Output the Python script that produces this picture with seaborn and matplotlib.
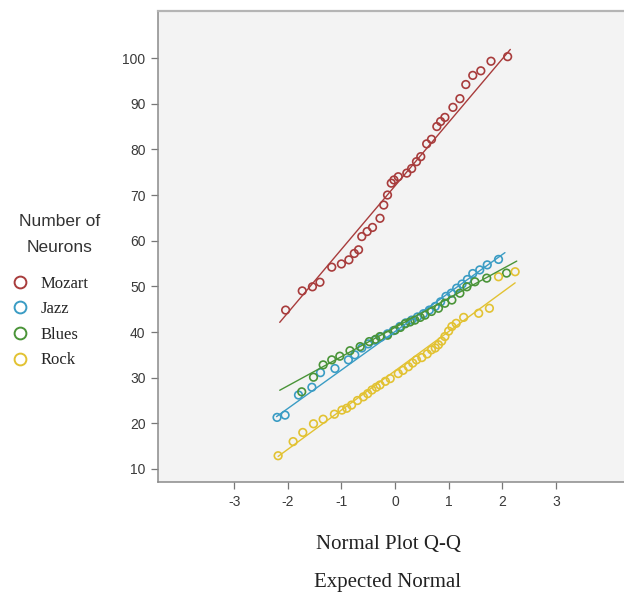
import numpy as np
import pandas as pd
import matplotlib
matplotlib.use("Agg")
import matplotlib.pyplot as plt
from matplotlib.lines import Line2D
import seaborn as sns

# ===============================
# Data
# ===============================
series = ["Mozart", "Jazz", "Blues", "Rock"]
colors = ["#a83c3c", "#3a9cc4", "#4a9438", "#e2c232"]

mozart_z = [-2.04, -1.73, -1.54, -1.40, -1.18, -1.00, -0.86, -0.76, -0.68, -0.62,
            -0.52, -0.42, -0.28, -0.21, -0.14, -0.07, -0.02, 0.06, 0.22, 0.31,
            0.40, 0.48, 0.59, 0.68, 0.78, 0.85, 0.93, 1.08, 1.21, 1.32,
            1.45, 1.60, 1.79, 2.10]
mozart_v = [44.8, 49.0, 49.9, 50.9, 54.2, 54.9, 55.8, 57.2, 58.0, 60.9,
            62.0, 62.9, 64.9, 67.8, 70.0, 72.6, 73.3, 74.0, 74.8, 75.8,
            77.3, 78.4, 81.2, 82.2, 85.0, 86.1, 87.0, 89.2, 91.1, 94.2,
            96.2, 97.2, 99.3, 100.3]

jazz_z = [-2.20, -2.05, -1.80, -1.55, -1.39, -1.12, -0.87, -0.75, -0.62, -0.50,
          -0.38, -0.26, -0.14, -0.03, 0.09, 0.20, 0.31, 0.42, 0.53, 0.64,
          0.75, 0.85, 0.95, 1.05, 1.15, 1.25, 1.35, 1.45, 1.58, 1.72, 1.93]
jazz_v = [21.3, 21.8, 26.2, 27.9, 31.1, 32.0, 33.9, 35.0, 36.5, 37.4,
          38.2, 38.9, 39.6, 40.3, 41.2, 42.0, 42.6, 43.3, 44.0, 44.8,
          45.6, 46.6, 47.8, 48.5, 49.6, 50.5, 51.5, 52.8, 53.6, 54.7, 55.9]

blues_z = [-1.74, -1.52, -1.34, -1.18, -1.03, -0.84, -0.65, -0.48, -0.36, -0.28,
           -0.14, 0.00, 0.10, 0.19, 0.28, 0.37, 0.47, 0.56, 0.68, 0.81,
           0.93, 1.06, 1.21, 1.34, 1.49, 1.71, 2.08]
blues_v = [26.9, 30.1, 32.8, 33.9, 34.7, 35.9, 36.8, 37.9, 38.4, 39.0,
           39.3, 40.4, 41.0, 41.8, 42.2, 42.6, 43.2, 43.7, 44.5, 45.2,
           46.3, 47.0, 48.5, 49.9, 51.0, 51.8, 52.9]

rock_z = [-2.18, -1.90, -1.72, -1.52, -1.34, -1.13, -0.99, -0.90, -0.81, -0.70,
          -0.59, -0.51, -0.43, -0.35, -0.28, -0.18, -0.09, 0.06, 0.15, 0.25,
          0.33, 0.40, 0.50, 0.60, 0.68, 0.75, 0.81, 0.87, 0.93, 1.00,
          1.06, 1.14, 1.28, 1.56, 1.76, 1.93, 2.24]
rock_v = [12.9, 16.0, 18.0, 19.9, 20.9, 22.0, 22.9, 23.3, 24.0, 25.0,
          25.8, 26.5, 27.3, 27.9, 28.4, 29.2, 29.8, 30.9, 31.6, 32.4,
          33.2, 33.9, 34.4, 35.2, 36.1, 36.5, 37.2, 38.0, 39.0, 40.2,
          41.2, 41.9, 43.2, 44.1, 45.2, 52.1, 53.2]

# reference lines: mean + sd * z, over the z span drawn
line_mean = [72.0, 40.1, 41.0, 31.5]
line_sd = [13.9, 8.43, 6.4, 8.6]
line_lo = [-2.15, -2.21, -2.15, -2.18]
line_hi = [2.15, 2.05, 2.27, 2.24]

x_ticks = [-3, -2, -1, 0, 1, 2, 3]
y_ticks = [10, 20, 30, 40, 50, 60, 70, 80, 90, 100]

# ===============================
# Long tables for seaborn
# ===============================
pts = pd.concat([
    pd.DataFrame({"z": z, "v": v, "Music": name})
    for name, z, v in zip(series,
                          [mozart_z, jazz_z, blues_z, rock_z],
                          [mozart_v, jazz_v, blues_v, rock_v])
], ignore_index=True)

lines = pd.concat([
    pd.DataFrame({"z": [lo, hi], "v": [m + s * lo, m + s * hi], "Music": name})
    for name, m, s, lo, hi in zip(series, line_mean, line_sd, line_lo, line_hi)
], ignore_index=True)

palette = dict(zip(series, colors))

# ===============================
# Plot
# ===============================
sns.set_theme(style="white")
plt.rcParams["font.family"] = ["Liberation Sans", "DejaVu Sans"]
plt.rcParams["axes.unicode_minus"] = False

fig = plt.figure(figsize=(6.24, 5.95), dpi=100)
ax = fig.add_axes([158 / 624, 113 / 595, 466 / 624, 471 / 595])
ax.set_facecolor("#f3f3f3")

sns.lineplot(data=lines, x="z", y="v", hue="Music", palette=palette,
             linewidth=1.0, legend=False, ax=ax, estimator=None, sort=False)
sns.scatterplot(data=pts, x="z", y="v", hue="Music", palette=palette,
                marker="o", s=30, linewidth=1.2, legend=False, ax=ax)
# seaborn fills the markers; make them hollow with the series colour as edge
for coll in ax.collections:
    fc = coll.get_facecolors()
    coll.set_edgecolors(fc)
    coll.set_facecolors("none")

ax.set_xlim(-4.42, 4.27)
ax.set_ylim(7.15, 110.3)
ax.set_xticks(x_ticks)
ax.set_yticks(y_ticks)
ax.set_xlabel("")
ax.set_ylabel("")
ax.tick_params(axis="both", direction="out", length=5, width=0.9,
               color="#777777", labelsize=10, labelcolor="#3a3a3a", pad=4,
               left=True, bottom=True)

for side in ["left", "bottom"]:
    ax.spines[side].set_color("#8a8a8a")
    ax.spines[side].set_linewidth(1.1)
ax.spines["top"].set_color("#b4b4b4")
ax.spines["top"].set_linewidth(1.6)
ax.spines["right"].set_visible(False)

serif = ["Liberation Serif", "DejaVu Serif"]
fig.text(389 / 624, 1 - 544 / 595, "Normal Plot Q-Q", family=serif,
         fontsize=15, color="#222222", ha="center", va="center")
fig.text(388 / 624, 1 - 583 / 595, "Expected Normal", family=serif,
         fontsize=15, color="#222222", ha="center", va="center")

# legend title as two centred lines
fig.text(60 / 624, 1 - 222 / 595, "Number of", fontsize=12.5,
         color="#333333", ha="center", va="center")
fig.text(60 / 624, 1 - 247 / 595, "Neurons", fontsize=12.5,
         color="#333333", ha="center", va="center")

handles = [Line2D([], [], linestyle="none", marker="o", markersize=8.5,
                  markerfacecolor="none", markeredgecolor=c, markeredgewidth=1.4)
           for c in colors]
leg = fig.legend(handles, series, loc="upper left",
                 bbox_to_anchor=(10 / 624, 1 - 275.5 / 595), frameon=False,
                 handletextpad=0.66, labelspacing=0.58, borderaxespad=0.0,
                 borderpad=0.0, handlelength=1.2,
                 prop={"family": serif, "size": 12})

fig.savefig("out.png", dpi=100, facecolor="white")
